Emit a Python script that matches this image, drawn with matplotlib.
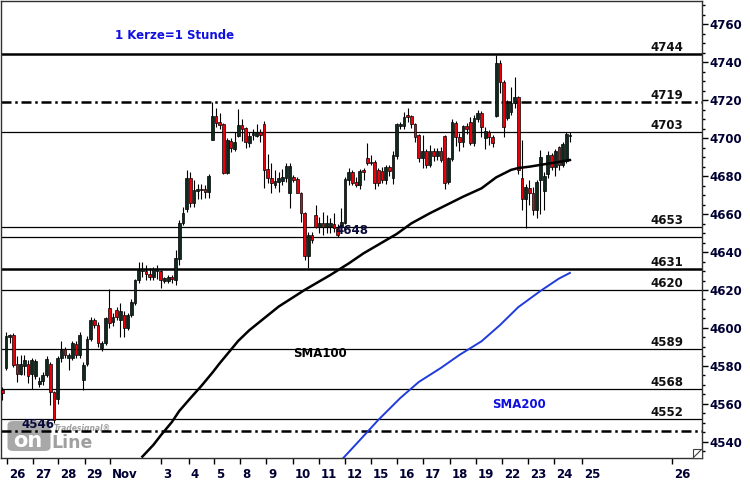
import numpy as np
import matplotlib
matplotlib.use('Agg')
import matplotlib.pyplot as plt
from matplotlib.ticker import MultipleLocator, FixedLocator, FixedFormatter
from matplotlib.transforms import ScaledTranslation
from matplotlib.patches import FancyBboxPatch

plt.rcParams['font.family'] = ['DejaVu Sans']

# hourly candles: last hour of Oct 25, then Oct 26 .. Nov 24 (7 per day)
opens = [
    4567.5,
    4579, 4595.5, 4596.5, 4581, 4576, 4580, 4581,
    4576, 4574.5, 4570.5, 4572, 4575.5, 4581, 4566.5,
    4562.5, 4584, 4589, 4584, 4584, 4591.5, 4586,
    4572.5, 4581, 4594, 4604, 4601.5, 4589.5, 4592,
    4610.5, 4603, 4609.5, 4604, 4607, 4600, 4607,
    4613, 4625.3, 4630, 4630.2, 4628.4, 4627, 4630.2,
    4630.2, 4624.9, 4625, 4627, 4625.3, 4636.2, 4655.1,
    4662.6, 4678.8, 4665.6, 4672, 4673, 4673, 4671.7,
    4698.9, 4711.5, 4708.6, 4707.3, 4681.4, 4698.6, 4694.2,
    4701.2, 4706.8, 4705, 4697.5, 4701.5, 4701.2, 4703,
    4707.2, 4683.7, 4678.7, 4675.2, 4677, 4677.5, 4679,
    4671, 4679.6, 4678.2, 4671.2, 4660.7, 4637.9, 4649,
    4659.5, 4653.3, 4655, 4653, 4653.3, 4655, 4652.5,
    4653.3, 4655.4, 4677.9, 4682.3, 4677, 4675.3, 4683.2,
    4689.3, 4687, 4687.5, 4683.2, 4682.8, 4677.9, 4684.9,
    4678.8, 4690.5, 4706.3, 4706.3, 4712, 4711.6, 4707.4,
    4701.6, 4689.3, 4693.3, 4685.8, 4693.3, 4690.5, 4693.3,
    4701, 4677, 4688.8, 4708, 4700.3, 4698, 4706.3,
    4708.6, 4697.5, 4709.8, 4713.3, 4700, 4703.3, 4700.3,
    4711.6, 4739.6, 4729.6, 4710.3, 4713.9, 4718.2, 4721.7,
    4679, 4668, 4673.5, 4671, 4662, 4678, 4672,
    4681, 4691, 4685, 4695, 4686, 4688, 4701,
]
highs = [
    4569,
    4598, 4597, 4597.5, 4585, 4586, 4586, 4583,
    4584, 4583.5, 4574, 4577, 4585, 4582, 4567,
    4585, 4593, 4590, 4587, 4593, 4593, 4598,
    4582, 4596, 4606, 4605, 4603, 4593, 4606,
    4620.5, 4608, 4611, 4613, 4609, 4608, 4615,
    4626, 4635, 4635, 4633, 4631.4, 4632.3, 4633,
    4630.5, 4627, 4627.9, 4628, 4641, 4656.9, 4663.9,
    4683.2, 4682.3, 4677.9, 4676, 4676, 4675.2, 4681,
    4719, 4715.6, 4713, 4708, 4700, 4700, 4703,
    4715.2, 4710, 4706, 4703.3, 4705, 4707.2, 4705,
    4708.9, 4691.4, 4686.6, 4683.1, 4682.2, 4683.7, 4686.6,
    4686.7, 4680.5, 4679.3, 4671.8, 4661, 4650.7, 4650.7,
    4664.7, 4658.6, 4661.2, 4659.5, 4657.7, 4660.4, 4655,
    4663, 4679.6, 4684, 4683.2, 4679.6, 4683.5, 4684,
    4697.2, 4691, 4688.4, 4684, 4684.9, 4686, 4686,
    4693, 4708, 4708.6, 4713.9, 4715.6, 4712.1, 4708,
    4702, 4701.6, 4694, 4696.3, 4695, 4695, 4695.4,
    4701.6, 4690, 4710, 4709, 4702.4, 4706.8, 4708,
    4711.2, 4712, 4714.7, 4714.4, 4705.6, 4704.2, 4701.6,
    4743.7, 4741, 4730.5, 4720, 4727, 4732.3, 4722,
    4699, 4676, 4678, 4674, 4678, 4693.7, 4682,
    4693, 4692, 4694, 4696, 4698, 4703, 4703,
]
lows = [
    4562,
    4578, 4592, 4579.5, 4571.5, 4575, 4575, 4571,
    4568, 4573, 4569, 4570, 4574, 4559.5, 4550,
    4560, 4582, 4584, 4578, 4583, 4584, 4584,
    4567.5, 4580, 4593, 4600, 4590, 4588, 4591,
    4600, 4601, 4604, 4595.5, 4595.5, 4599, 4606,
    4612, 4623.5, 4627, 4625.3, 4625.3, 4625.3, 4626,
    4621, 4623.5, 4623.5, 4623.5, 4622.6, 4633.2, 4654.2,
    4661.2, 4663.9, 4663.8, 4668, 4668, 4668.2, 4668.2,
    4698.9, 4706, 4705, 4681, 4681, 4692.4, 4693,
    4700.7, 4698.6, 4694.5, 4695.4, 4699, 4700.7, 4698,
    4673.5, 4676.1, 4670.8, 4673.5, 4671.7, 4675.2, 4677,
    4663, 4677, 4670.9, 4656, 4636, 4631.4, 4644.6,
    4652.5, 4649.8, 4649, 4649.8, 4649.8, 4650.7, 4648,
    4651.6, 4655, 4675.3, 4675.3, 4674.4, 4673, 4678,
    4685.8, 4685.8, 4673, 4674.5, 4676.1, 4676, 4680,
    4676, 4689, 4705, 4705, 4708.6, 4705.1, 4698,
    4687.5, 4684, 4684, 4684.9, 4688, 4688.4, 4687.5,
    4673, 4676, 4688, 4696, 4693, 4695.4, 4702,
    4696.3, 4696, 4708.6, 4700.3, 4694, 4696.3, 4695.4,
    4711, 4723.5, 4700.3, 4709.5, 4712, 4716, 4681,
    4662, 4652.5, 4665, 4659.5, 4657.7, 4660, 4662,
    4679, 4683, 4680, 4683, 4685, 4687, 4698,
]
closes = [
    4566,
    4596, 4596.5, 4580.5, 4576, 4581, 4583, 4574.5,
    4583, 4582.5, 4572, 4575.5, 4583.5, 4566.5, 4551.5,
    4584, 4588.5, 4586, 4586, 4592, 4586, 4596.5,
    4580.5, 4594, 4604, 4601.5, 4592, 4592, 4605,
    4602.5, 4606, 4606, 4609, 4600, 4607, 4613.5,
    4625.5, 4630.5, 4631, 4628.4, 4627, 4631, 4631,
    4625.3, 4626.1, 4627, 4625.6, 4636.7, 4655.1, 4660.7,
    4679.1, 4665.6, 4672.6, 4673, 4672.6, 4671.7, 4680,
    4711.5, 4708, 4706.8, 4681.4, 4698.9, 4694.5, 4698,
    4706.8, 4704.5, 4698, 4701.2, 4702.5, 4703.3, 4701.5,
    4683.1, 4678.7, 4676.1, 4677.3, 4679, 4679.6, 4685.2,
    4685, 4678, 4671.2, 4660.7, 4637.9, 4649, 4646.3,
    4653.3, 4655, 4653, 4655, 4655, 4652.5, 4649,
    4656, 4678.2, 4682.3, 4676.5, 4675.3, 4682.8, 4682.3,
    4687, 4687.5, 4676.1, 4676.1, 4677.9, 4684.9, 4682.8,
    4691, 4707.4, 4707.4, 4711.2, 4711.2, 4707.4, 4700.7,
    4689.3, 4693.3, 4685.8, 4693.3, 4690.5, 4693.3, 4688.4,
    4676.1, 4689.3, 4708.6, 4700.3, 4698, 4706.3, 4704.5,
    4697.5, 4710.3, 4713.3, 4705.6, 4703.8, 4700.3, 4697.5,
    4739.6, 4729.6, 4705.6, 4718.2, 4718.2, 4721.7, 4683.2,
    4668, 4674, 4671, 4662, 4677, 4690, 4680,
    4691, 4685, 4693, 4686, 4697, 4702, 4701.5,
]

# moving averages read at some candle indices
sma100_idx = [38, 41, 43, 46, 48, 51, 54, 57, 59, 62, 64, 67, 70, 75, 82, 89, 94, 98,
              107, 111, 116, 125, 130, 134, 138, 140, 143, 154]
sma100_val = [4532.3, 4538.5, 4543.5, 4550.5, 4556.3, 4563, 4569.5, 4576.5, 4581.5, 4588.5,
              4593.2, 4598.8, 4603.5, 4611.3, 4620, 4627.9, 4634, 4639.3,
              4649.5, 4655.1, 4660.4, 4669.1, 4673.5, 4679.3, 4683.2, 4684.2, 4684.9, 4688.4]
sma200_idx = [92, 97, 102, 108, 113, 119, 124, 130, 135, 140, 146, 151, 154]
sma200_val = [4530.5, 4541, 4551.6, 4563.2, 4571.6, 4579, 4585.8, 4593, 4601.5, 4611, 4619.5, 4626, 4629]

# support / resistance levels
levels = [4744, 4719, 4703, 4653, 4648, 4631, 4620, 4589, 4568, 4552, 4546]
right_labels = [4744, 4719, 4703, 4653, 4631, 4620, 4589, 4568, 4552]

day_labels = ['26', '27', '28', '29', 'Nov', '3', '4', '5', '8', '9', '10', '11', '12',
              '15', '16', '17', '18', '19', '22', '23', '24', '25', '26']
day_px = [6.8, 32.9, 58, 84.6, 110, 161, 188.5, 214, 240, 266, 293, 318.5, 344.6,
          370.7, 397, 423, 449.5, 475.6, 502, 528, 554, 582, 672]

# pixel layout helpers
X0, DX = 2.3, 3.686
def px(x):
    return (x - X0) / DX

W, H = 750, 480
fig = plt.figure(figsize=(7.5, 4.8), dpi=100, facecolor='white')
ax = fig.add_axes([1 / W, 22 / H, 701 / W, 457 / H])
ax.set_zorder(2)
ax.patch.set_alpha(0)

o = np.array(opens); h = np.array(highs); l = np.array(lows); c = np.array(closes)
idx = np.arange(len(o))
up = c >= o
up_col = '#0f2a1c'
dn_col = '#e8000b'

ax.vlines(idx, l, h, color='black', linewidth=0.8, zorder=3)
body_h = np.maximum(np.abs(c - o), 0.4)
ax.bar(idx, body_h, bottom=np.minimum(o, c), width=0.74,
       color=np.where(up, up_col, dn_col), edgecolor='black', linewidth=0.5, zorder=4)

ax.plot(sma100_idx, sma100_val, color='black', linewidth=1.8, zorder=5)
ax.plot(sma200_idx, sma200_val, color='#1f3bdc', linewidth=1.4, zorder=5)

thick = {4744, 4631}
dashdot = {4719, 4546}
for lv in levels:
    if lv in dashdot:
        ax.axhline(lv, color='black', linewidth=1.8, linestyle=(0, (4, 1.5, 1, 1.5)), zorder=2)
    elif lv in thick:
        ax.axhline(lv, color='black', linewidth=1.8, zorder=2)
    else:
        ax.axhline(lv, color='black', linewidth=0.9, zorder=2)

for lv in right_labels:
    ax.text(px(683), lv + 1.6, str(lv), ha='right', va='baseline',
            fontsize=8.5, fontweight='bold', color='#111111', zorder=6)

ax.text(px(335), 4648 + 1.5, '4648', ha='left', va='baseline', fontsize=8.5,
        fontweight='bold', color='#0a0a3a', zorder=6)
ax.text(px(21), 4546 + 1.6, '4546', ha='left', va='baseline', fontsize=8.5,
        fontweight='bold', color='#0a0a3a', zorder=6)

ax.text(px(115), 4753.7, '1 Kerze=1 Stunde', ha='left', va='center', fontsize=8.5,
        fontweight='bold', color='#1010e0')
ax.text(px(293), 4586.8, 'SMA100', ha='left', va='center', fontsize=8.5,
        fontweight='bold', color='black')
ax.text(px(492), 4559.5, 'SMA200', ha='left', va='center', fontsize=8.5,
        fontweight='bold', color='#1010e0')

ax.set_xlim(px(1), px(702))
ax.set_ylim(4740 - 396 / 1.9, 4740 + 61 / 1.9)

# right price axis
ax.yaxis.tick_right()
ax.yaxis.set_major_locator(MultipleLocator(20))
ax.yaxis.set_minor_locator(MultipleLocator(5))
ax.tick_params(axis='y', which='major', length=4, width=1, pad=1, labelsize=8.5,
               labelcolor='#000033')
ax.tick_params(axis='y', which='minor', length=2, width=1)
for t in ax.get_yticklabels():
    t.set_fontweight('bold')

# day axis
ax.xaxis.set_major_locator(FixedLocator([px(p) for p in day_px]))
ax.xaxis.set_major_formatter(FixedFormatter(day_labels))
ax.tick_params(axis='x', which='major', length=4, width=1, pad=3, labelsize=8.5,
               labelcolor='#000033')
off = ScaledTranslation(2 / 100, 0, fig.dpi_scale_trans)
for t in ax.get_xticklabels():
    t.set_fontweight('bold')
    t.set_horizontalalignment('left')
    t.set_transform(t.get_transform() + off)

for s in ax.spines.values():
    s.set_color('#303030')
    s.set_linewidth(1)

# watermark logo (behind the chart)
def fy(y):
    return (H - y) / H
fig.patches.append(FancyBboxPatch((9 / W, fy(450)), 40 / W, 28 / H,
                                  boxstyle='round,pad=0.002,rounding_size=0.008',
                                  transform=fig.transFigure, facecolor='#a8a8a8',
                                  edgecolor='none', zorder=1))
fig.text(13 / W, fy(447), 'on', fontsize=15, fontweight='bold', color='white', zorder=1)
fig.text(51 / W, fy(448), 'Line', fontsize=12.5, fontweight='bold', color='#a0a0a0', zorder=1)
fig.text(54 / W, fy(431), 'Tradesignal\u00ae', fontsize=5.5, fontweight='bold',
         fontstyle='italic', color='#a0a0a0', zorder=1)

# little corner box
fig.patches.append(plt.Rectangle((693 / W, fy(458)), 9 / W, 9 / H, transform=fig.transFigure,
                                 facecolor='white', edgecolor='#404040', linewidth=0.8, zorder=3))
fig.lines.append(plt.Line2D([694 / W, 701 / W], [fy(457), fy(450)], transform=fig.transFigure,
                            color='#404040', linewidth=0.8, zorder=4))

fig.savefig('out.png', dpi=100)
